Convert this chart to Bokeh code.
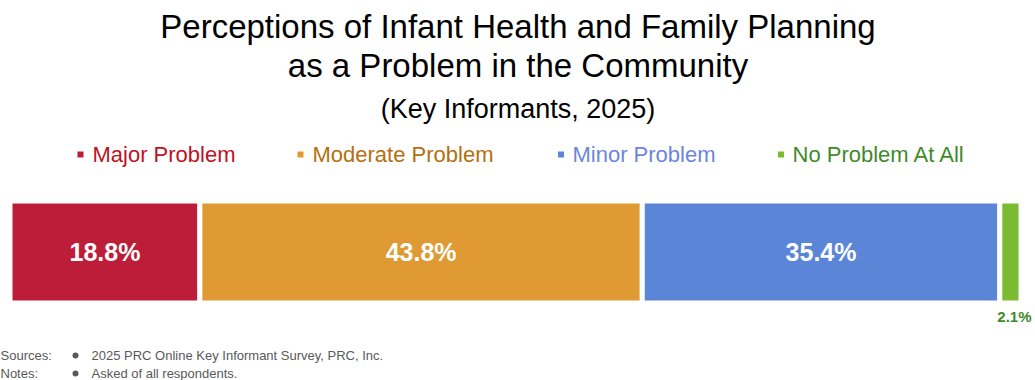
from bokeh.plotting import figure
from bokeh.models import Range1d, ColumnDataSource
from bokeh.core.properties import value
from bokeh.embed import file_html
from bokeh.resources import INLINE

# ---- data ----
categories = ["Major Problem", "Moderate Problem", "Minor Problem", "No Problem At All"]
values = [18.8, 43.8, 35.4, 2.1]
bar_colors = ["#BE1D39", "#DF9A33", "#5B85D6", "#7BBB31"]
legend_colors = ["#C0111F", "#B5700F", "#6D86DB", "#3F8A2A"]
title_lines = ["Perceptions of Infant Health and Family Planning",
               "as a Problem in the Community"]
subtitle = "(Key Informants, 2025)"
footer_heads = ["Sources:", "Notes:"]
footer_texts = ["2025 PRC Online Key Informant Survey, PRC, Inc.",
                "Asked of all respondents."]

# ---- layout constants ----
W, H = 1035, 380
PX_PER_PCT = 10.1
X0_PX = 9.5
FONT = "Liberation Sans"

x_start = -X0_PX / PX_PER_PCT
x_end = x_start + W / PX_PER_PCT

p = figure(width=W, height=H, x_range=Range1d(x_start, x_end), y_range=Range1d(H, 0),
           output_backend="svg", toolbar_location=None, min_border=0,
           x_axis_type=None, y_axis_type=None, outline_line_color=None)
p.grid.visible = False
p.extra_x_ranges = {"px": Range1d(0, W)}
p.styles = {"position": "absolute", "left": "0px", "top": "0px"}

# ---- bars ----
lefts, rights = [], []
acc = 0.0
for v in values:
    lefts.append(acc)
    acc += v
    rights.append(acc)
mids = [(l + r) / 2 for l, r in zip(lefts, rights)]
BAR_Y = 251.5
src = ColumnDataSource(dict(left=lefts, right=rights, color=bar_colors))
p.hbar(y=BAR_Y, left="left", right="right", height=102, fill_color="color",
       line_color="white", line_width=5, source=src)

inside = [i for i, v in enumerate(values) if v >= 5]
outside = [i for i, v in enumerate(values) if v < 5]
p.text(x=[mids[i] for i in inside], y=[BAR_Y] * len(inside),
       text=[f"{values[i]:.1f}%" for i in inside],
       text_color="white", text_font=value(FONT), text_font_style="bold",
       text_font_size="25px", text_align="center", text_baseline="middle")
p.text(x=[mids[i] for i in outside], y=[315.5] * len(outside),
       text=[f"{values[i]:.1f}%" for i in outside],
       text_color=[legend_colors[i] for i in outside], text_font=value(FONT),
       text_font_style="bold", text_font_size="15px", text_align="center",
       text_baseline="middle", x_offset=4)

# ---- titles ----
p.text(x=[517.5, 517.5], y=[25.5, 64.5], text=title_lines, x_range_name="px",
       text_color="black", text_font=value(FONT), text_font_size="33px",
       text_align="center", text_baseline="middle")
p.text(x=[517.5], y=[108.5], text=[subtitle], x_range_name="px",
       text_color="black", text_font=value(FONT), text_font_size="27px",
       text_align="center", text_baseline="middle")

# ---- legend ----
leg_sq_x = [80, 300, 560.5, 780.5]
leg_tx_x = [92, 312, 572, 792]
p.rect(x=leg_sq_x, y=[154] * 4, width=6, height=6, width_units="screen",
       height_units="screen", fill_color=bar_colors, line_color=None, x_range_name="px")
p.text(x=leg_tx_x, y=[153.5] * 4, text=categories, text_color=legend_colors,
       x_range_name="px", text_font=value(FONT), text_font_size="22px",
       text_align="left", text_baseline="middle")

# ---- footer ----
GRAY = "#595959"
p.text(x=[0, 0], y=[354.5, 372.5], text=footer_heads, x_range_name="px",
       text_color=GRAY, text_font=value(FONT), text_font_size="13px",
       text_align="left", text_baseline="middle")
p.scatter(x=[75, 75], y=[355, 373], size=6, marker="circle", fill_color=GRAY,
          line_color=None, x_range_name="px")
p.text(x=[91, 91], y=[354.5, 372.5], text=footer_texts, x_range_name="px",
       text_color=GRAY, text_font=value(FONT), text_font_size="13px",
       text_align="left", text_baseline="middle")

open("out.html", "w").write(file_html(p, INLINE))
